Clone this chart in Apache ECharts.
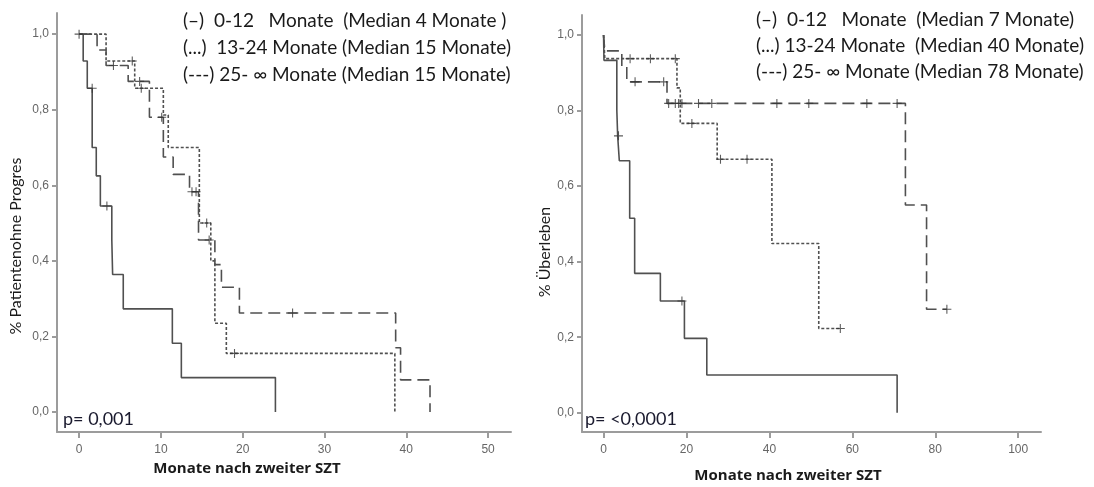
<!DOCTYPE html>
<html><head><meta charset="utf-8">
<script src="https://cdn.jsdelivr.net/npm/echarts@6/dist/echarts.min.js"></script>
<style>html,body{margin:0;padding:0;background:#fff}#c{width:1094px;height:487px}</style>
</head><body><div id="c"></div>
<script>
// ---------- DATA ----------
const xTicksLeft = [0, 10, 20, 30, 40, 50];
const xTicksRight = [0, 20, 40, 60, 80, 100];
const yTicks = [0, 0.2, 0.4, 0.6, 0.8, 1.0];

const legendLeft = [
  "(–)  0-12   Monate  (Median 4 Monate )",
  "(...)  13-24 Monate (Median 15 Monate)",
  "(---) 25- ∞ Monate (Median 15 Monate)"
];
const legendRight = [
  "(–)  0-12   Monate  (Median 7 Monate)",
  "(...) 13-24 Monate  (Median 40 Monate)",
  "(---) 25- ∞ Monate (Median 78 Monate)"
];
const pLeft = "p= 0,001";
const pRight = "p= <0,0001";
const yNameLeft = "% Patientenohne Progres";
const yNameRight = "% Überleben";
const xName = "Monate nach zweiter SZT";

// Left panel: progression-free (time, survival) steps
const left_0_12 = [[0,1],[0.5,0.929],[1.0,0.857],[1.6,0.70],[2.1,0.625],[2.6,0.545],[4.0,0.455],[4.1,0.364],[5.4,0.273],[11.4,0.182],[12.5,0.091],[24.0,0]];
const left_13_24 = [[0,1],[3.3,0.929],[6.8,0.857],[10.3,0.786],[10.9,0.70],[14.7,0.50],[16.1,0.40],[16.6,0.235],[18.0,0.155],[38.6,0]];
const left_25_inf = [[0,1],[2.2,0.958],[3.3,0.917],[6.0,0.875],[8.6,0.78],[10.3,0.675],[11.5,0.629],[13.5,0.583],[14.6,0.455],[16.6,0.39],[17.4,0.33],[19.6,0.262],[38.7,0.17],[39.3,0.085],[42.9,0]];
const leftCens_0_12 = [[0,1],[1.6,0.857],[3.4,0.545]];
const leftCens_13_24 = [[6.5,0.929],[7.6,0.857],[15.6,0.50],[19.0,0.155]];
const leftCens_25_inf = [[4.2,0.917],[7.4,0.875],[10.1,0.78],[13.8,0.583],[14.3,0.583],[15.9,0.455],[26.1,0.262]];

// Right panel: overall survival
const right_0_12 = [[0,1],[0.1,0.933],[3.2,0.80],[3.4,0.733],[3.8,0.667],[6.3,0.515],[7.5,0.369],[13.7,0.296],[19.5,0.197],[24.9,0.10],[70.8,0]];
const right_13_24 = [[0,1],[0.3,0.9375],[17.7,0.86],[18.5,0.766],[27.4,0.671],[40.6,0.448],[51.9,0.223],[57.1,0.223]];
const right_25_inf = [[0,1],[0.3,0.958],[4.4,0.917],[5.6,0.876],[15.3,0.819],[72.8,0.55],[77.9,0.274],[82.8,0.274]];
const rightCens_0_12 = [[3.6,0.733],[18.9,0.296]];
const rightCens_13_24 = [[6.4,0.9375],[11.3,0.9375],[17.3,0.9375],[21.3,0.766],[28.2,0.671],[34.6,0.671],[57.1,0.223]];
const rightCens_25_inf = [[7.6,0.876],[14.5,0.876],[15.7,0.819],[17.3,0.819],[18.1,0.819],[18.9,0.819],[22.9,0.819],[26.1,0.819],[41.8,0.819],[49.5,0.819],[63.5,0.819],[70.8,0.819],[82.8,0.274]];

// ---------- CHART ----------
const axisColor = '#9c9c9c';
const curveColor = '#505050';
const crossPath = 'path://M-0.12,-1 L0.12,-1 L0.12,-0.12 L1,-0.12 L1,0.12 L0.12,0.12 L0.12,1 L-0.12,1 L-0.12,0.12 L-1,0.12 L-1,-0.12 L-0.12,-0.12 Z';

function xAx(gi, min, max, ticks) {
  return {
    type: 'value', gridIndex: gi, min: min, max: max,
    axisLine: { show: true, onZero: false, lineStyle: { color: axisColor, width: 2 } },
    axisTick: { show: true, customValues: ticks, length: 6, lineStyle: { color: axisColor, width: 2 } },
    axisLabel: { customValues: ticks, color: '#666', fontSize: 12, margin: 12, fontFamily: 'Liberation Sans' },
    splitLine: { show: false }
  };
}
function yAx(gi, min, max) {
  return {
    type: 'value', gridIndex: gi, min: min, max: max,
    axisLine: { show: true, onZero: false, lineStyle: { color: axisColor, width: 2 } },
    axisTick: { show: true, customValues: yTicks, length: 5, lineStyle: { color: axisColor, width: 2 } },
    axisLabel: { customValues: yTicks, color: '#666', fontSize: 12, margin: 8, fontFamily: 'Liberation Sans',
      formatter: v => v.toFixed(1).replace('.', ',') },
    splitLine: { show: false }
  };
}
function curve(gi, data, type) {
  return { type: 'line', xAxisIndex: gi, yAxisIndex: gi, data: data, step: 'end', symbol: 'none',
    lineStyle: { color: curveColor, width: 1.6, type: type }, animation: false, z: 3 };
}
function cens(gi, data) {
  return { type: 'scatter', xAxisIndex: gi, yAxisIndex: gi, data: data, symbol: crossPath, symbolSize: 9,
    itemStyle: { color: '#333' }, animation: false, z: 4 };
}
function txt(x, y, text, font, fill, align, rot) {
  return { type: 'text', x: x, y: y, rotation: rot || 0,
    style: { text: text, font: font, fill: fill, textAlign: align || 'left', textVerticalAlign: 'middle' } };
}

const legFont = '19px Lato';
const graphics = [];
legendLeft.forEach((t, i) => graphics.push(txt(183, [21, 48, 75][i], t, legFont, '#1a1a1a')));
legendRight.forEach((t, i) => graphics.push(txt(756, [20, 46, 72][i], t, legFont, '#1a1a1a')));
graphics.push(txt(63, 419, pLeft, '18px Lato', '#1a1a2e'));
graphics.push(txt(585, 419, pRight, '18px Lato', '#1a1a2e'));
graphics.push(txt(247, 469, xName, 'bold 15px "Open Sans"', '#1a1a1a', 'center'));
graphics.push(txt(788, 476, xName, 'bold 15px "Open Sans"', '#1a1a1a', 'center'));
graphics.push(txt(16, 246, yNameLeft, '16px Lato', '#1a1a1a', 'center', Math.PI / 2));
graphics.push(txt(545, 252, yNameRight, '16px Lato', '#1a1a1a', 'center', Math.PI / 2));

const option = {
  backgroundColor: '#fff',
  animation: false,
  grid: [
    { left: 57, right: 583, top: 13, bottom: 55 },
    { left: 582, right: 53, top: 15, bottom: 55 }
  ],
  xAxis: [xAx(0, -2.7, 52.8, xTicksLeft), xAx(1, -5.2, 105.5, xTicksRight)],
  yAxis: [yAx(0, -0.053, 1.056), yAx(1, -0.051, 1.053)],
  series: [
    curve(0, left_0_12, 'solid'), curve(0, left_13_24, [3, 2]), curve(0, left_25_inf, [12, 6]),
    cens(0, leftCens_0_12), cens(0, leftCens_13_24), cens(0, leftCens_25_inf),
    curve(1, right_0_12, 'solid'), curve(1, right_13_24, [3, 2]), curve(1, right_25_inf, [12, 6]),
    cens(1, rightCens_0_12), cens(1, rightCens_13_24), cens(1, rightCens_25_inf)
  ],
  graphic: graphics
};
const chart = echarts.init(document.getElementById('c'), null, { renderer: 'canvas' });
chart.setOption(option);
</script></body></html>
